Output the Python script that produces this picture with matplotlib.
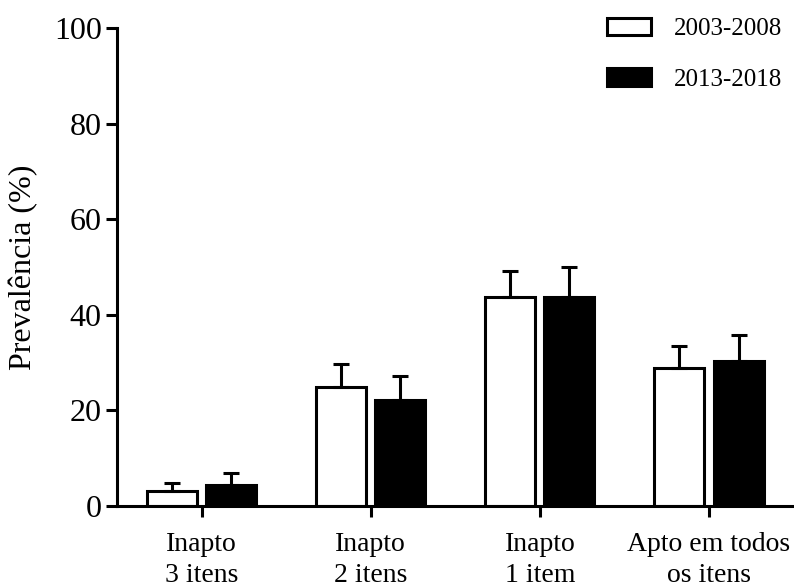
import numpy as np
import matplotlib
matplotlib.use("Agg")
import matplotlib.pyplot as plt
from matplotlib.patches import Patch

plt.rcParams['font.family'] = ['Liberation Serif', 'DejaVu Serif']

categories = ['Inapto\n3 itens', 'Inapto\n2 itens', 'Inapto\n1 item', 'Apto em todos\nos itens']
labels = ['2003-2008', '2013-2018']
vals_2003 = [3.1, 24.9, 43.7, 28.9]
err_2003 = [1.7, 4.8, 5.5, 4.6]
vals_2013 = [4.3, 22.1, 43.7, 30.3]
err_2013 = [2.6, 5.1, 6.3, 5.5]

fig = plt.figure(figsize=(7.94, 5.85), dpi=100)
ax = fig.add_axes([0.1474, 0.135, 0.852, 0.817])

x = np.arange(len(categories))
w = 0.296
off = 0.175
lw = 2.2

ax.bar(x - off, vals_2003, w, color='white', edgecolor='black', linewidth=lw,
       yerr=[np.zeros(4), err_2003], error_kw=dict(ecolor='black', elinewidth=lw, capsize=5.5, capthick=lw),
       label=labels[0], zorder=2)
ax.bar(x + off, vals_2013, w, color='black', edgecolor='black', linewidth=lw,
       yerr=[np.zeros(4), err_2013], error_kw=dict(ecolor='black', elinewidth=lw, capsize=5.5, capthick=lw),
       label=labels[1], zorder=2)

ax.set_xlim(-0.5, 3.5)
ax.set_ylim(0, 100)
ax.set_yticks([0, 20, 40, 60, 80, 100])
ax.set_xticks(x)
ax.set_xticklabels(categories, fontsize=20, linespacing=1.3)
ax.tick_params(axis='y', labelsize=23, width=lw, length=8, pad=3)
ax.tick_params(axis='x', width=lw, length=8, pad=11)
for s in ['top', 'right']:
    ax.spines[s].set_visible(False)
for s in ['left', 'bottom']:
    ax.spines[s].set_linewidth(lw)
ax.set_ylabel('Prevalência (%)', fontsize=23, labelpad=11)

handles = [Patch(facecolor='white', edgecolor='black', linewidth=lw),
           Patch(facecolor='black', edgecolor='black', linewidth=lw)]
ax.legend(handles, labels, loc='upper right', bbox_to_anchor=(1.016, 1.069), frameon=False,
          fontsize=18, handlelength=1.75, handleheight=0.72, handletextpad=0.9, labelspacing=1.12)

fig.savefig('out.png', dpi=100)
